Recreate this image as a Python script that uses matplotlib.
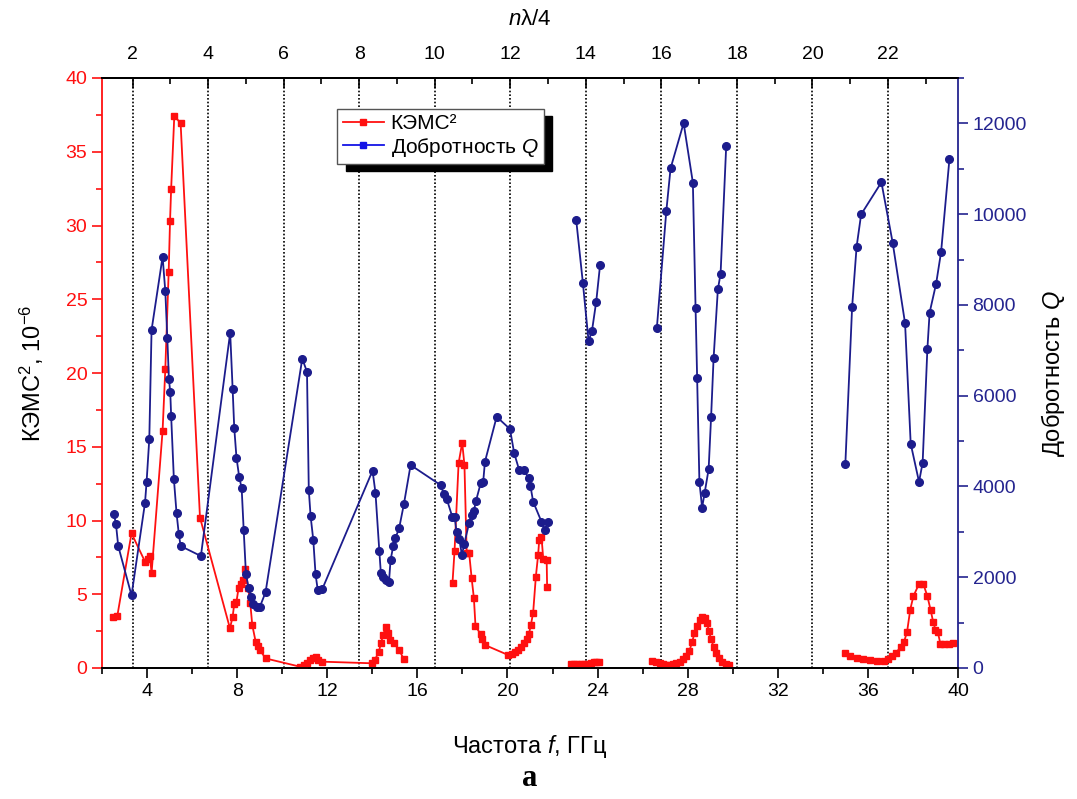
import numpy as np
import matplotlib
matplotlib.use("Agg")
import matplotlib.pyplot as plt
from matplotlib.ticker import MultipleLocator
from matplotlib.lines import Line2D

plt.rcParams['font.family'] = ['Liberation Sans', 'DejaVu Sans']
plt.rcParams['mathtext.fontset'] = 'custom'
plt.rcParams['mathtext.rm'] = 'Liberation Sans'
plt.rcParams['mathtext.it'] = 'Liberation Sans:italic'

nan = np.nan
# ---- KEMS^2 (red, left axis, 1e-6) ----
f_kems = [2.50, 2.68, 3.31, 3.91, 4.02, 4.13, 4.20, 4.69, 4.81, 4.96, 5.02, 5.07, 5.21, 5.49, 6.35,
          7.68, 7.80, 7.87, 7.97, 8.06, 8.15, 8.27, 8.37, 8.49, 8.58, 8.67, 8.82, 8.91, 9.01, 9.26,
          10.79, 10.95, 11.10, 11.25, 11.35, 11.48, 11.60, 11.75, 13.97, 14.11, 14.29, 14.38, 14.48,
          14.59, 14.68, 14.78, 14.96, 15.19, 15.40, nan,
          17.56, 17.65, 17.83, 17.99, 18.09, 18.19, 18.30, 18.41, 18.51, 18.58, 18.81, 18.89, 19.00,
          20.03, 20.18, 20.33, 20.48, 20.59, 20.73, 20.85, 20.95, 21.04, 21.14, 21.26, 21.36, 21.41,
          21.51, 21.59, 21.74, 21.76, nan,
          22.83, 22.95, 23.10, 23.25, 23.40, 23.55, 23.70, 23.85, 23.95, 24.06, nan,
          26.42, 26.60, 26.75, 26.90, 27.04, 27.19, 27.34, 27.49, 27.64, 27.78, 27.93, 28.08, 28.20,
          28.30, 28.41, 28.53, 28.64, 28.76, 28.86, 28.94, 29.04, 29.15, 29.26, 29.38, 29.53, 29.71,
          29.83, nan,
          35.00, 35.20, 35.50, 35.80, 36.10, 36.40, 36.70, 36.90, 37.05, 37.25, 37.45, 37.60, 37.74,
          37.88, 38.02, 38.27, 38.46, 38.64, 38.78, 38.90, 39.00, 39.10, 39.22, 39.40, 39.60, 39.80]
kems = [3.48, 3.53, 9.13, 7.21, 7.37, 7.59, 6.42, 16.09, 20.25, 26.85, 30.3, 32.5, 37.44, 36.93, 10.2,
        2.69, 3.48, 4.34, 4.5, 5.4, 5.69, 5.97, 6.69, 5.4, 4.43, 2.92, 1.79, 1.51, 1.22, 0.65,
        0.09, 0.2, 0.35, 0.55, 0.65, 0.77, 0.55, 0.43, 0.32, 0.54, 1.1, 1.67, 2.24,
        2.76, 2.35, 1.9, 1.67, 1.22, 0.59, nan,
        5.79, 7.93, 13.88, 15.28, 13.76, 7.77, 7.77, 6.08, 4.72, 2.85, 2.28, 1.94, 1.56,
        0.88, 0.93, 1.1, 1.2, 1.45, 1.72, 2.0, 2.3, 2.92, 3.76, 6.2, 7.66, 8.68,
        8.9, 7.37, 7.32, 5.51, nan,
        0.3, 0.3, 0.28, 0.28, 0.3, 0.3, 0.35, 0.38, 0.4, 0.42, nan,
        0.47, 0.39, 0.32, 0.27, 0.22, 0.22, 0.27, 0.32, 0.39, 0.58, 0.84, 1.18, 1.78,
        2.35, 2.87, 3.26, 3.44, 3.39, 3.08, 2.48, 1.96, 1.44, 1.05, 0.66, 0.39, 0.27,
        0.19, nan,
        1.0, 0.8, 0.65, 0.6, 0.55, 0.5, 0.5, 0.6, 0.8, 1.0, 1.45, 1.75, 2.46,
        3.96, 4.87, 5.7, 5.7, 4.87, 3.96, 3.11, 2.59, 2.46, 1.63, 1.6, 1.6, 1.7]

# ---- Quality factor Q (navy, right axis) ----
f_q = [2.53, 2.62, 2.72, 3.31, 3.91, 3.98, 4.10, 4.20, 4.69, 4.81, 4.90, 4.97, 5.03, 5.07, 5.19, 5.31,
       5.41, 5.49, 6.39, 7.69, 7.80, 7.87, 7.97, 8.09, 8.20, 8.29, 8.39, 8.51, 8.62, 8.71, 8.86, 9.01,
       9.26, 10.89, 11.10, 11.18, 11.26, 11.38, 11.48, 11.58, 11.78, 14.01, 14.14, 14.31, 14.38, 14.48,
       14.60, 14.74, 14.81, 14.93, 15.02, 15.19, 15.40, 15.70, 17.03, 17.18, 17.30, 17.55, 17.65, 17.74,
       17.86, 17.98, 18.08, 18.30, 18.41, 18.51, 18.60, 18.81, 18.92, 19.00, 19.52, 20.11, 20.30, 20.52,
       20.73, 20.94, 21.02, 21.14, 21.51, 21.66, 21.81, nan,
       23.05, 23.35, 23.60, 23.75, 23.94, 24.11, nan,
       26.63, 27.05, 27.24, 27.82, 28.23, 28.35, 28.42, 28.52, 28.64, 28.75, 28.93, 29.04, 29.15, 29.34,
       29.46, 29.71, nan,
       35.00, 35.30, 35.50, 35.70, 36.60, 37.10, 37.65, 37.90, 38.27, 38.43, 38.64, 38.74, 39.03, 39.25,
       39.62]
q = [3385, 3172, 2688, 1601, 3642, 4105, 5052, 7446, 9061, 8305, 7270, 6367, 6080, 5551, 4171, 3407,
     2952, 2688, 2467, 7387, 6140, 5294, 4633, 4214, 3959, 3040, 2071, 1762, 1571, 1410, 1350, 1350,
     1668, 6814, 6528, 3921, 3349, 2820, 2064, 1712, 1740, 4347, 3862, 2585, 2086, 1998,
     1939, 1901, 2379, 2688, 2857, 3078, 3606, 4472, 4031, 3833, 3730, 3333, 3333, 3003,
     2835, 2489, 2732, 3201, 3371, 3465, 3679, 4069, 4091, 4545, 5536, 5265, 4730, 4362,
     4362, 4179, 4009, 3664, 3223, 3040, 3223, nan,
     9876, 8473, 7204, 7424, 8074, 8878, nan,
     7484, 10061, 11008, 12006, 10695, 7931, 6384, 4102, 3536, 3849, 4382, 5538, 6823, 8345,
     8684, 11500, nan,
     4505, 7957, 9287, 9995, 10702, 9371, 7595, 4943, 4101, 4522, 7022, 7831, 8471, 9169,
     11215]

x_ticks = [4, 8, 12, 16, 20, 24, 28, 32, 36, 40]
n_ticks = [2, 4, 6, 8, 10, 12, 14, 16, 18, 20, 22]
GHZ_PER_N = 1.677  # frequency step per n (nλ/4 resonance)

RED = '#ff1010'
NAVY = '#1c1c8c'
AX_BLUE = '#24248f'

fig = plt.figure(figsize=(10.77, 7.99), dpi=100)
ax = fig.add_axes([102/1077, 1-668/799, 856/1077, 590/799])
ax2 = ax.twinx()

# dotted resonance lines
for n in n_ticks:
    ax.axvline(n*GHZ_PER_N, color='black', ls=(0, (1, 1.2)), lw=1.2, zorder=1)

ax.plot(f_kems, kems, color=RED, lw=1.3, marker='s', ms=5, mec=RED, mfc=RED, zorder=3)
ax2.plot(f_q, q, color=NAVY, lw=1.3, marker='o', ms=5.5, mec=NAVY, mfc=NAVY, zorder=3)

ax.set_xlim(2, 40)
ax.set_ylim(0, 40)
ax2.set_ylim(0, 13000)

ax.set_xticks(x_ticks)
ax.xaxis.set_minor_locator(MultipleLocator(2))
ax.yaxis.set_major_locator(MultipleLocator(5))
ax.yaxis.set_minor_locator(MultipleLocator(2.5))
ax2.yaxis.set_major_locator(MultipleLocator(2000))
ax2.yaxis.set_minor_locator(MultipleLocator(1000))

ax.tick_params(axis='x', which='both', direction='out', top=False, labelsize=14, colors='black')
ax.tick_params(axis='x', which='major', length=7, width=1.2)
ax.tick_params(axis='x', which='minor', length=4, width=1.2)
ax.tick_params(axis='y', which='both', direction='out', colors=RED, labelsize=14)
ax.tick_params(axis='y', which='major', length=7, width=1.2)
ax.tick_params(axis='y', which='minor', length=4, width=1.2)
ax2.tick_params(axis='y', which='both', direction='out', colors=AX_BLUE, labelsize=14)
ax2.tick_params(axis='y', which='major', length=7, width=1.2)
ax2.tick_params(axis='y', which='minor', length=4, width=1.2)

for a in (ax, ax2):
    a.spines['top'].set_color('black')
    a.spines['bottom'].set_color('black')
    for s in a.spines.values():
        s.set_linewidth(1.3)
ax.spines['left'].set_color(RED)
ax.spines['right'].set_visible(False)
ax2.spines['left'].set_visible(False)
ax2.spines['right'].set_color(AX_BLUE)

sec = ax.secondary_xaxis('top', functions=(lambda f: f/GHZ_PER_N, lambda n: n*GHZ_PER_N))
sec.set_xticks(n_ticks)
sec.xaxis.set_minor_locator(MultipleLocator(1))
sec.tick_params(which='both', direction='in', labelsize=14, colors='black', pad=11)
sec.tick_params(which='major', length=7, width=1.2)
sec.tick_params(which='minor', length=4, width=1.2)
sec.spines['top'].set_linewidth(1.3)
sec.set_xlabel('$n$λ/4', fontsize=16, labelpad=15)

ax.set_xlabel('Частота $f$, ГГц', fontsize=17)
ax.xaxis.set_label_coords(0.5, -0.11)
ax.set_ylabel('КЭМС$^2$, 10$^{-6}$', fontsize=17, color='black')
ax.yaxis.set_label_coords(-0.065, 0.5)
ax2.set_ylabel('Добротность $Q$', fontsize=17, color='black', rotation=90)
ax2.yaxis.set_label_coords(1.095, 0.5)

handles = [Line2D([], [], color=RED, lw=1.3, marker='s', ms=5),
           Line2D([], [], color='#1414e6', lw=1.3, marker='s', ms=5)]
leg = ax2.legend(handles, ['КЭМС²', 'Добротность $Q$'], loc='upper left',
                 bbox_to_anchor=(0.275, 0.947), borderaxespad=0, fontsize=15,
                 fancybox=False, framealpha=1, edgecolor='#555555', handlelength=2.0,
                 labelspacing=0.1, borderpad=0.25, handletextpad=0.3,
                 shadow={'ox': 6, 'oy': -5, 'facecolor': 'black', 'edgecolor': 'black', 'alpha': 1})
leg.set_zorder(10)

fig.text(530/1077, 1-778/799, 'a', fontfamily='Liberation Serif', fontweight='bold',
         fontsize=22, ha='center', va='center')

fig.savefig('out.png', dpi=100)
